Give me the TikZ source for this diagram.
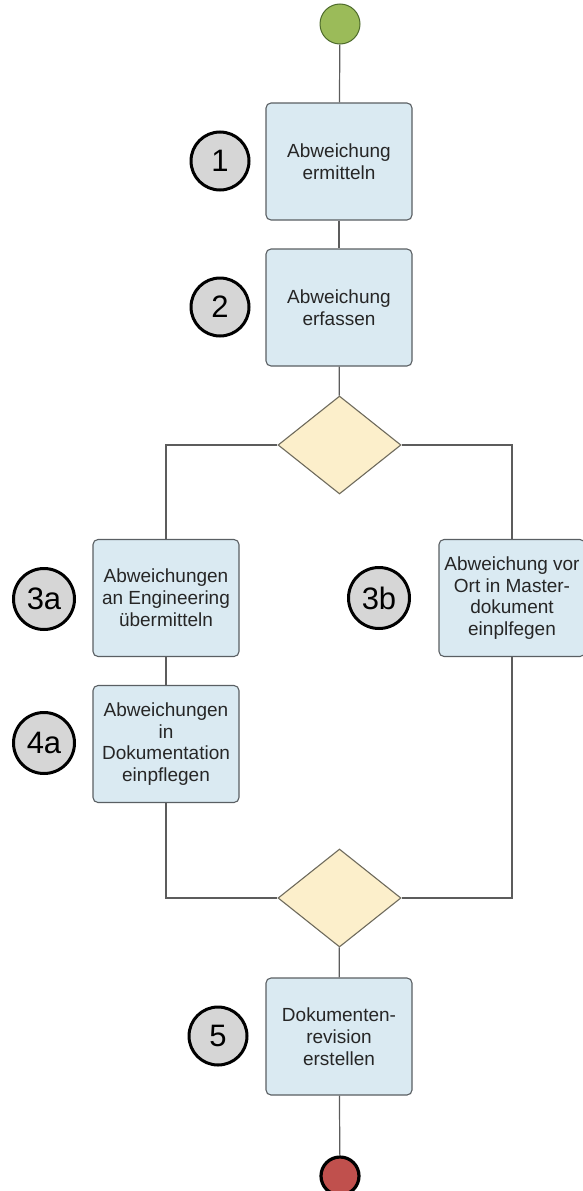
\documentclass[tikz,border=0pt]{standalone}
\usepackage{fontspec}
\setmainfont{Liberation Sans}
\usetikzlibrary{shapes.geometric}

\definecolor{boxfill}{HTML}{DAEAF2}
\definecolor{boxline}{HTML}{5A5F63}
\definecolor{gatefill}{HTML}{FCEFCB}
\definecolor{gateline}{HTML}{6E6A5C}
\definecolor{flowline}{HTML}{5C5C5C}
\definecolor{markfill}{HTML}{D6D6D6}
\definecolor{startfill}{HTML}{9BBB59}
\definecolor{startline}{HTML}{4E6B2C}
\definecolor{endfill}{HTML}{C0504D}

\tikzset{
  activity/.style={draw=boxline, fill=boxfill, line width=1.1pt, rounded corners=5pt,
    minimum width=146, minimum height=117, inner sep=0pt, align=center,
    font=\fontsize{19}{21.8}\selectfont, text=black!85},
  gate/.style={diamond, draw=gateline, fill=gatefill, line width=1.1pt,
    minimum width=123, minimum height=98, inner sep=0pt},
  stepmark/.style={circle, draw=black, fill=markfill, line width=3pt,
    minimum size=58, inner sep=0pt, font=\fontsize{31}{31}\selectfont},
  flow/.style={draw=flowline, line width=1.2pt},
}

\begin{document}
\begin{tikzpicture}[x=1pt, y=-1pt]
  \useasboundingbox (0,0) rectangle (583,1191);

  % start and end events
  \node[circle, draw=startline, fill=startfill, line width=1pt, minimum size=40, inner sep=0pt] (start) at (340,24) {};
  \node[circle, draw=black, fill=endfill, line width=3.2pt, minimum size=38, inner sep=0pt] (stop) at (340,1176) {};

  % activities
  \node[activity] (b1) at (339,161.5) {Abweichung\\ermitteln};
  \node[activity] (b2) at (339,307.5) {Abweichung\\erfassen};
  \node[activity] (b3a) at (166,598) {Abweichungen\\an Engineering\\übermitteln};
  \node[activity] (b4a) at (166,744) {Abweichungen\\in\\Dokumentation\\einpflegen};
  \node[activity] (b3b) at (512,598) {Abweichung vor\\Ort in Master-\\dokument\\einplfegen};
  \node[activity] (b5) at (339,1036.5) {Dokumenten-\\revision\\erstellen};

  % gateways
  \node[gate] (g1) at (339.5,445) {};
  \node[gate] (g2) at (339.5,898) {};

  % step numbers
  \node[stepmark] (m1) at (220,161) {1};
  \node[stepmark] (m2) at (220,307) {2};
  \node[stepmark, minimum size=61] (m3a) at (44,599) {3a};
  \node[stepmark, minimum size=61] (m4a) at (44,743) {4a};
  \node[stepmark, minimum size=61] (m3b) at (379,598) {3b};
  \node[stepmark] (m5) at (218,1036) {5};

  % sequence flow
  \draw[flow] (start) -- (b1);
  \draw[flow] (b1) -- (b2);
  \draw[flow] (b2) -- (g1);
  \draw[flow] (g1.west) -| (b3a.north);
  \draw[flow] (g1.east) -| (b3b.north);
  \draw[flow] (b3a) -- (b4a);
  \draw[flow] (b4a.south) |- (g2.west);
  \draw[flow] (b3b.south) |- (g2.east);
  \draw[flow] (g2) -- (b5);
  \draw[flow] (b5) -- (stop);
\end{tikzpicture}
\end{document}
